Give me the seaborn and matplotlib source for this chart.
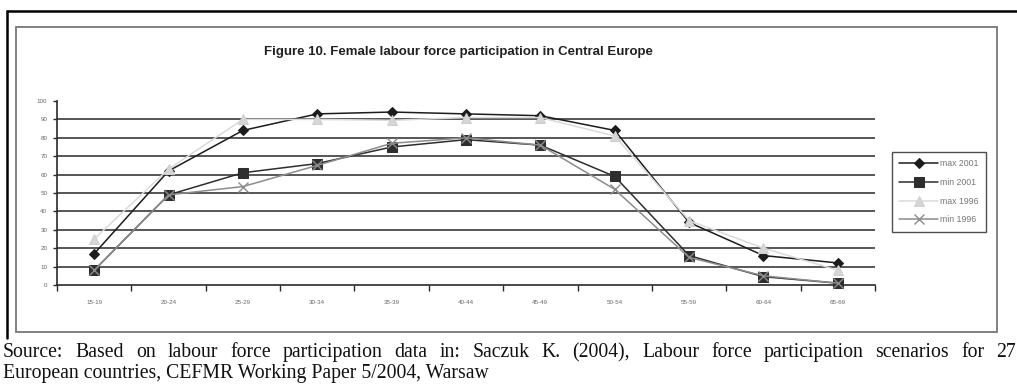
import matplotlib
matplotlib.use("Agg")
import matplotlib.pyplot as plt
from matplotlib.lines import Line2D
from matplotlib.patches import Rectangle
import seaborn as sns
import pandas as pd

# Age groups and participation rates (%)
age_groups = ["15-19", "20-24", "25-29", "30-34", "35-39", "40-44",
              "45-49", "50-54", "55-59", "60-64", "65-69"]
max_2001 = [17, 62, 84, 93, 94, 93, 92, 84, 34, 16, 12]
min_2001 = [8, 49, 61, 66, 75, 79, 76, 59, 16, 4.5, 1]
max_1996 = [25, 63, 90, 90, 89.5, 91, 91, 81, 35, 20, 8]
min_1996 = [8, 49, 53.5, 65, 77, 80, 76, 52, 15, 5, 1]
series_names = ["max 2001", "min 2001", "max 1996", "min 1996"]
y_ticks = [0, 10, 20, 30, 40, 50, 60, 70, 80, 90, 100]

title = "Figure 10. Female labour force participation in Central Europe"
source_lines = [
    "Source: Based on labour force participation data in: Saczuk K. (2004), "
    "Labour force participation scenarios for 27",
    "European countries, CEFMR Working Paper 5/2004, Warsaw",
]

W, H = 1017, 388
sns.set_theme(style="white")
plt.rcParams["font.family"] = ["Liberation Sans", "DejaVu Sans"]

fig = plt.figure(figsize=(W / 100, H / 100), dpi=100)


def fx(x):
    return x / W


def fy(y):
    return 1 - y / H


# plot area in pixel coordinates
left, right, top, bottom = 57, 875, 101, 285
ax = fig.add_axes([fx(left), fy(bottom), fx(right) - fx(left), (bottom - top) / H])

df = pd.DataFrame({
    "age": age_groups * 4,
    "rate": max_2001 + min_2001 + max_1996 + min_1996,
    "series": sum([[s] * len(age_groups) for s in series_names], []),
})

styles = {
    "max 2001": dict(color="#1c1c1c", marker="D", markersize=5.5,
                     markerfacecolor="#1c1c1c", markeredgecolor="#1c1c1c"),
    "min 2001": dict(color="#2e2e2e", marker="s", markersize=7,
                     markerfacecolor="#2e2e2e", markeredgecolor="#2e2e2e"),
    "max 1996": dict(color="#dadada", marker="^", markersize=7.5,
                     markerfacecolor="#d6d6d6", markeredgecolor="#cfcfcf"),
    "min 1996": dict(color="#8c8c8c", marker="x", markersize=7,
                     markeredgecolor="#8c8c8c", markeredgewidth=1.0),
}

for name in series_names:
    sub = df[df["series"] == name]
    sns.lineplot(data=sub, x="age", y="rate", ax=ax, sort=False,
                 linewidth=1.1, label=name, clip_on=False, zorder=3,
                 **styles[name])

ax.set_xlim(-0.5, len(age_groups) - 0.5)
ax.set_ylim(0, 100)
ax.set_xlabel("")
ax.set_ylabel("")

# horizontal gridlines
for v in y_ticks[1:-1]:
    ax.axhline(v, color="#3a3a3a", linewidth=1.2, zorder=1)

for s in ["top", "right"]:
    ax.spines[s].set_visible(False)
for s in ["left", "bottom"]:
    ax.spines[s].set_color("#2a2a2a")
    ax.spines[s].set_linewidth(1.2)

ax.set_yticks(y_ticks)
ax.set_yticklabels([str(v) for v in y_ticks], fontsize=4.5, color="#666666")
ax.tick_params(axis="y", length=3, width=1, color="#2a2a2a", pad=4, left=True)

ax.set_xticks(range(len(age_groups)))
ax.set_xticklabels(age_groups, fontsize=4.5, color="#666666")
ax.tick_params(axis="x", which="major", length=0, pad=11)
ax.set_xticks([i - 0.5 for i in range(len(age_groups) + 1)], minor=True)
ax.tick_params(axis="x", which="minor", length=4, width=1, color="#2a2a2a",
               bottom=True, direction="out")

leg = ax.legend(loc="upper left", bbox_to_anchor=(fx(892), fy(152)),
                bbox_transform=fig.transFigure, fontsize=6.3, frameon=True,
                fancybox=False, handlelength=4.4, handletextpad=0.2,
                labelspacing=1.1, borderpad=0.85, borderaxespad=0)
leg.get_frame().set_edgecolor("#222222")
leg.get_frame().set_linewidth(1.0)
for t in leg.get_texts():
    t.set_color("#777777")

# title
fig.text(fx(458), fy(52), title, ha="center", va="center", fontsize=9.5,
         color="#222222", fontweight="bold")

# chart frame and page frame
fig.add_artist(Rectangle((fx(16), fy(332)), fx(997) - fx(16), (332 - 27) / H,
                         transform=fig.transFigure, fill=False,
                         edgecolor="#777777", linewidth=1.3))
fig.add_artist(Line2D([fx(7), 1.0], [fy(11), fy(11)], transform=fig.transFigure,
                      color="black", linewidth=1.8))
fig.add_artist(Line2D([fx(7), fx(7)], [fy(11), fy(338)], transform=fig.transFigure,
                      color="black", linewidth=1.8))

# source note: first line justified across the page width, last line ragged
src_font = dict(fontsize=14.2, family=["Liberation Serif", "DejaVu Serif"],
                color="#111111", ha="left", va="baseline")
renderer = fig.canvas.get_renderer()
x_start, x_end = 3, 1016
for i, line in enumerate(source_lines):
    y = fy(357 + 21 * i)
    if i == len(source_lines) - 1:
        fig.text(fx(x_start), y, line, **src_font)
        continue
    words = line.split(" ")
    texts = [fig.text(0, y, w, **src_font) for w in words]
    widths = [t.get_window_extent(renderer).width for t in texts]
    gap = (x_end - x_start - sum(widths)) / (len(words) - 1)
    x = x_start
    for t, w in zip(texts, widths):
        t.set_x(fx(x))
        x += w + gap

fig.savefig("out.png", dpi=100)
